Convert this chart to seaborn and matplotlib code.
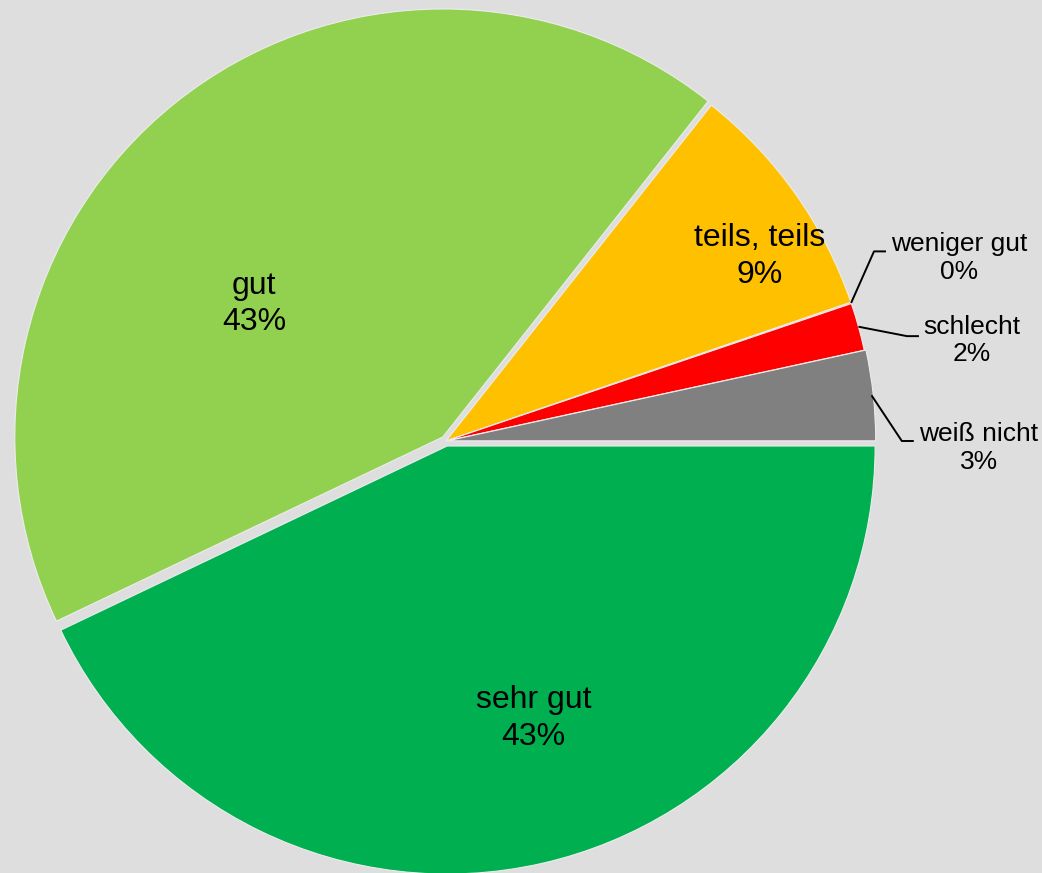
import matplotlib
matplotlib.use("Agg")
import matplotlib.pyplot as plt
import seaborn as sns
import numpy as np

# ---- data ----
categories = ["sehr gut", "gut", "teils, teils", "weniger gut", "schlecht", "weiß nicht"]
values = [42.9, 42.7, 9.1, 0.05, 1.8, 3.4]
colors = ["#00B050", "#92D050", "#FFC000", "#FF9900", "#FF0000", "#808080"]
explode = [0.012, 0.012, 0, 0, 0, 0.004]

# ---- layout (label placement) ----
inside_pos = {"sehr gut": (0.205, -0.648), "gut": (-0.448, 0.320), "teils, teils": (0.732, 0.432)}
outside_layout = {  # elbow point, text center
    "weniger gut": ((1.0, 0.443), (1.198, 0.427)),
    "schlecht": ((1.077, 0.245), (1.228, 0.235)),
    "weiß nicht": ((1.065, 0.0), (1.245, -0.016)),
}

BG = "#DEDEDE"
sns.set_theme(style="white")
plt.rcParams["font.family"] = ["Liberation Sans", "DejaVu Sans"]

fig = plt.figure(figsize=(10.42, 8.73), dpi=100, facecolor=BG)
ax = fig.add_axes([0, 0, 1, 1])
ax.set_facecolor(BG)

wedges, _ = ax.pie(values, colors=colors, startangle=0, counterclock=False,
                   radius=1.0, center=(0, 0), explode=explode,
                   wedgeprops=dict(edgecolor="#ECECEC", linewidth=0.8))

total = sum(values)
cx, cy, r = 446, 441, 428
ax.set_xlim(-cx / r, (1042 - cx) / r)
ax.set_ylim((cy - 873) / r, cy / r)
ax.set_aspect("auto")
ax.axis("off")

for name, val, w in zip(categories, values, wedges):
    pct = f"{round(val / total * 100):.0f}%"
    if name in inside_pos:
        x, y = inside_pos[name]
        ax.text(x, y, f"{name}\n{pct}", ha="center", va="center",
                fontsize=23, color="black", linespacing=1.3)
    else:
        ang = np.deg2rad((w.theta1 + w.theta2) / 2)
        ax0, ay0 = np.cos(ang), np.sin(ang)
        (ex, ey), (tx, ty) = outside_layout[name]
        ax.plot([ax0, ex, ex + 0.028], [ay0, ey, ey], color="black", lw=1.4,
                solid_capstyle="butt")
        ax.text(tx, ty, f"{name}\n{pct}", ha="center", va="center",
                fontsize=19, color="black", linespacing=1.2)

fig.savefig("out.png", dpi=100, facecolor=BG)
